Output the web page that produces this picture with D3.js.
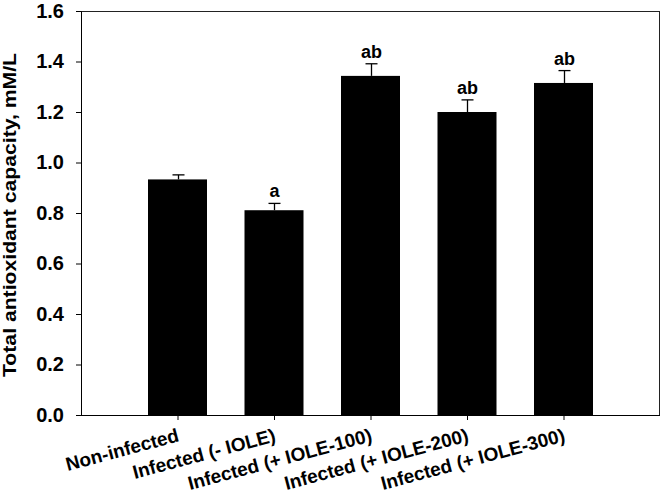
<!DOCTYPE html>
<html>
<head>
<meta charset="utf-8">
<script src="https://cdn.jsdelivr.net/npm/d3@7"></script>
<style>
body { margin: 0; background: #fff; }
text { font-family: Arial, "Liberation Sans", sans-serif; font-weight: bold; }
</style>
</head>
<body>
<div id="chart"></div>
<script>
var groups = ["Non-infected", "Infected (- IOLE)", "Infected (+ IOLE-100)", "Infected (+ IOLE-200)", "Infected (+ IOLE-300)"]
var means = [0.933, 0.811, 1.343, 1.200, 1.315]
var errors = [0.018, 0.027, 0.048, 0.048, 0.049]
var letters = ["", "a", "ab", "ab", "ab"]
var yTicks = [0, 0.2, 0.4, 0.6, 0.8, 1.0, 1.2, 1.4, 1.6]

var svg = d3.select("#chart").append("svg").attr("width", 661).attr("height", 491)

var plotL = 81, plotR = 660, plotT = 11, plotB = 415

var xScale = d3.scaleLinear().domain([0, groups.length + 1]).range([plotL, plotR])
var yScale = d3.scaleLinear().domain([0, 1.6]).range([plotB, plotT])
var barW = 59

// frame
svg.append("line").attr("x1", plotL).attr("x2", plotR).attr("y1", plotT + 0.5).attr("y2", plotT + 0.5).attr("stroke", "#222")
svg.append("line").attr("x1", plotR - 0.5).attr("x2", plotR - 0.5).attr("y1", plotT).attr("y2", plotB).attr("stroke", "#222")

// bars
svg.selectAll("rect.bar")
  .data(means)
  .enter()
  .append("rect")
  .attr("class", "bar")
  .attr("x", function(d, i) { return xScale(i + 1) - barW / 2 })
  .attr("width", barW)
  .attr("y", function(d) { return yScale(d) })
  .attr("height", function(d) { return yScale(0) - yScale(d) })
  .attr("fill", "#000")

// error bars (upper only)
means.forEach(function(m, i) {
  var cx = Math.round(xScale(i + 1)) + 0.5
  var yt = yScale(m + errors[i])
  svg.append("line").attr("x1", cx).attr("x2", cx).attr("y1", yScale(m)).attr("y2", yt).attr("stroke", "#000").attr("stroke-width", 1.3)
  svg.append("line").attr("x1", cx - 6).attr("x2", cx + 6).attr("y1", yt).attr("y2", yt).attr("stroke", "#000").attr("stroke-width", 1.3)
  if (letters[i]) {
    svg.append("text").text(letters[i])
      .attr("x", cx).attr("y", yt - 6)
      .attr("text-anchor", "middle")
      .attr("font-size", "18px")
      .attr("fill", "#000")
  }
})

// y axis
var yAxis = d3.axisLeft(yScale).tickValues(yTicks).tickFormat(d3.format(".1f")).tickSize(5).tickPadding(12)
var gy = svg.append("g").attr("transform", "translate(" + plotL + ",0)").call(yAxis)
gy.selectAll("text").attr("font-size", "20px").attr("fill", "#000").style("font-family", "Arial, 'Liberation Sans', sans-serif")
gy.selectAll("line, path").attr("stroke", "#000")

// x axis
var xAxis = d3.axisBottom(xScale).tickValues(d3.range(1, groups.length + 1)).tickFormat(function(d) { return groups[d - 1] }).tickSize(5).tickSizeOuter(0)
var gx = svg.append("g").attr("transform", "translate(0," + plotB + ")").call(xAxis)
gx.select("path").attr("d", "M" + plotL + ",0.5H" + plotR).attr("stroke", "#000")
gx.selectAll("line").attr("stroke", "#000")
gx.selectAll("text")
  .attr("font-size", "19px")
  .attr("fill", "#000")
  .style("font-family", "Arial, 'Liberation Sans', sans-serif")
  .attr("text-anchor", "end")
  .attr("dy", null)
  .attr("y", 0)
  .attr("transform", "translate(2,26) rotate(-15)")

// y title
svg.append("text")
  .text("Total antioxidant capacity, mM/L")
  .attr("transform", "translate(16," + 215 + ") rotate(-90)")
  .attr("text-anchor", "middle")
  .attr("font-size", "18px")
  .attr("textLength", 324)
  .attr("lengthAdjust", "spacingAndGlyphs")
  .attr("fill", "#000")
</script>
</body>
</html>
